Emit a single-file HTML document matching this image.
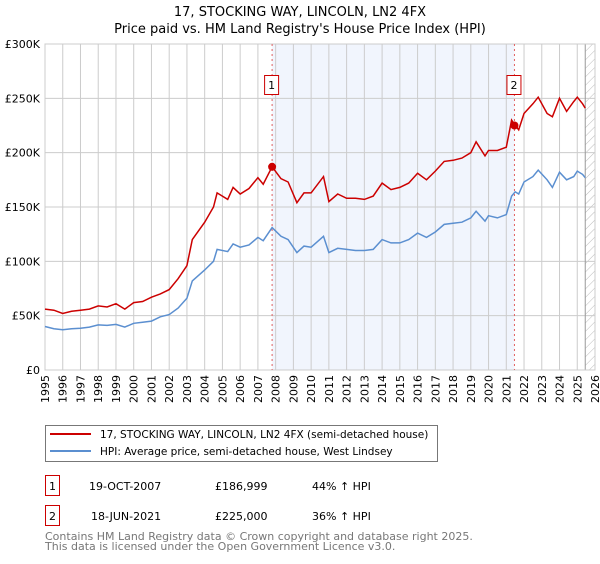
<!DOCTYPE html>
<html><head><meta charset="utf-8"><style>
body{margin:0;background:#fff;font-family:"DejaVu Sans","Liberation Sans",sans-serif;}
svg text{font-family:"DejaVu Sans","Liberation Sans",sans-serif;}
</style></head><body>
<svg id="c" width="600" height="560" xmlns="http://www.w3.org/2000/svg">
<defs><pattern id="hatch" width="6" height="6" patternUnits="userSpaceOnUse" patternTransform="rotate(45)"><line x1="0" y1="0" x2="0" y2="6" stroke="#bbb" stroke-width="1"/></pattern></defs>
<text x="300" y="16" text-anchor="middle" font-size="13" fill="#000">17, STOCKING WAY, LINCOLN, LN2 4FX</text>
<text x="300" y="33" text-anchor="middle" font-size="13" fill="#000">Price paid vs. HM Land Registry's House Price Index (HPI)</text>
<g id="plot"></g>
<g>
<rect x="45.5" y="425.5" width="392" height="36" fill="#fff" stroke="#777"/>
<line x1="50" y1="434" x2="91" y2="434" stroke="#cc0000" stroke-width="2"/>
<text x="100" y="438" font-size="10.5">17, STOCKING WAY, LINCOLN, LN2 4FX (semi-detached house)</text>
<line x1="50" y1="451" x2="91" y2="451" stroke="#5b8fd0" stroke-width="2"/>
<text x="100" y="455" font-size="10.5">HPI: Average price, semi-detached house, West Lindsey</text>
</g>
<g>
<rect x="45.5" y="475.5" width="14" height="20" fill="#fff" stroke="#cc0000"/>
<text x="52.5" y="490" font-size="11" text-anchor="middle">1</text>
<text x="89" y="490" font-size="11">19-OCT-2007</text>
<text x="215" y="490" font-size="11">£186,999</text>
<text x="312" y="490" font-size="11">44% ↑ HPI</text>
<rect x="45.5" y="505.5" width="14" height="20" fill="#fff" stroke="#cc0000"/>
<text x="52.5" y="520" font-size="11" text-anchor="middle">2</text>
<text x="91" y="520" font-size="11">18-JUN-2021</text>
<text x="215" y="520" font-size="11">£225,000</text>
<text x="312" y="520" font-size="11">36% ↑ HPI</text>
</g>
<text x="45" y="540" font-size="11" fill="#777">Contains HM Land Registry data © Crown copyright and database right 2025.</text>
<text x="45" y="550" font-size="11" fill="#777">This data is licensed under the Open Government Licence v3.0.</text>
</svg>
<script>
const years=[1995,1995.5,1996,1996.5,1997,1997.5,1998,1998.5,1999,1999.5,2000,2000.5,2001,2001.5,2002,2002.5,2003,2003.3,2004,2004.5,2004.7,2005.3,2005.6,2006,2006.5,2007,2007.3,2007.8,2008.3,2008.7,2009.2,2009.6,2010,2010.7,2011,2011.5,2012,2012.5,2013,2013.5,2014,2014.5,2015,2015.5,2016,2016.5,2017,2017.5,2018,2018.5,2019,2019.3,2019.8,2020,2020.5,2021,2021.3,2021.5,2021.7,2022,2022.5,2022.8,2023.3,2023.6,2024,2024.4,2024.8,2025,2025.3,2025.45];
const hpi=[40,38,37,38,38.5,39.5,41.5,41,42,39.5,43,44,45,49,51,57,66,82,92,100,111,109,116,113,115,122,119,131,123,120,108,114,113,123,108,112,111,110,110,111,120,117,117,120,126,122,127,134,135,136,140,146,137,142,140,143,160,164,162,173,178,184,175,168,182,175,178,183,180,177];
const price=[56,55,52,54,55,56,59,58,61,56,62,63,67,70,74,84,96,120,136,150,163,157,168,162,167,177,171,187,176,173,154,163,163,178,155,162,158,158,157,160,172,166,168,172,181,175,183,192,193,195,200,210,197,202,202,205,230,225,221,236,245,251,236,233,250,238,247,251,245,241];
const yTicks=[0,50,100,150,200,250,300];
const yTickLabels=["£0","£50K","£100K","£150K","£200K","£250K","£300K"];
const xTicks=[1995,1996,1997,1998,1999,2000,2001,2002,2003,2004,2005,2006,2007,2008,2009,2010,2011,2012,2013,2014,2015,2016,2017,2018,2019,2020,2021,2022,2023,2024,2025,2026];
const saleDates=[2007.8,2021.46];
const salePrices=[187,225];
const saleLabels=["1","2"];
const dataEnd=2025.45;

const L=45,R=595,T=44,B=370;
const X=v=>L+(v-1995)/(2026-1995)*(R-L);
const Y=v=>B-v/300*(B-T);
const NS="http://www.w3.org/2000/svg";
const g=document.getElementById('plot');
function mk(t,a,p){const e=document.createElementNS(NS,t);for(const k in a)e.setAttribute(k,a[k]);(p||g).appendChild(e);return e;}

const shade=mk('rect',{x:X(saleDates[0]),y:T,width:X(saleDates[1])-X(saleDates[0]),height:B-T,fill:'#eef2fd',opacity:0.8});


const hat=mk('rect',{x:X(dataEnd),y:T,width:R-X(dataEnd),height:B-T,fill:'url(#hatch)'});



xTicks.forEach(t=>{
  const l=mk('line',{x1:X(t),x2:X(t),y1:T,y2:B,stroke:'#ccc','stroke-width':1});
  
  
  const tx=mk('text',{x:0,y:0,'font-size':11,'text-anchor':'end',transform:`translate(${X(t)+4},375) rotate(-90)`});
  tx.textContent=t;
  
  
});
yTicks.forEach((t,i)=>{
  const l=mk('line',{x1:L,x2:R,y1:Y(t),y2:Y(t),stroke:'#ccc','stroke-width':1});
  
  
  const tx=mk('text',{x:40,y:Y(t)+4,'font-size':11,'text-anchor':'end'});
  tx.textContent=yTickLabels[i];
  
  
});
mk('line',{x1:X(dataEnd),x2:X(dataEnd),y1:T,y2:B,stroke:'#999','stroke-width':1});
mk('rect',{x:L,y:T,width:R-L,height:B-T,fill:'none',stroke:'#ccc'});

saleDates.forEach((d,i)=>{
  const l=mk('line',{x1:X(d),x2:X(d),y1:T,y2:B,stroke:'#e06060','stroke-dasharray':'2,3','stroke-width':1});
  
  
});

const hp=mk('path',{d:years.map((v,i)=>(i?'L':'M')+X(v).toFixed(1)+','+Y(hpi[i]).toFixed(1)).join(''),fill:'none',stroke:'#5b8fd0','stroke-width':1.5});


const pp=mk('path',{d:years.map((v,i)=>(i?'L':'M')+X(v).toFixed(1)+','+Y(price[i]).toFixed(1)).join(''),fill:'none',stroke:'#cc0000','stroke-width':1.5});



saleDates.forEach((d,i)=>{
  const c=mk('circle',{cx:X(d),cy:Y(salePrices[i]),r:4,fill:'#cc0000'});
  
  
  const bx=mk('rect',{x:X(d)-7.5,y:75.5,width:14,height:19,fill:'#fff',stroke:'#cc0000'});
  
  
  const tx=mk('text',{x:X(d)-0.5,y:89,'font-size':11,'text-anchor':'middle'});
  tx.textContent=saleLabels[i];
  
  
});
</script>
</body></html>
